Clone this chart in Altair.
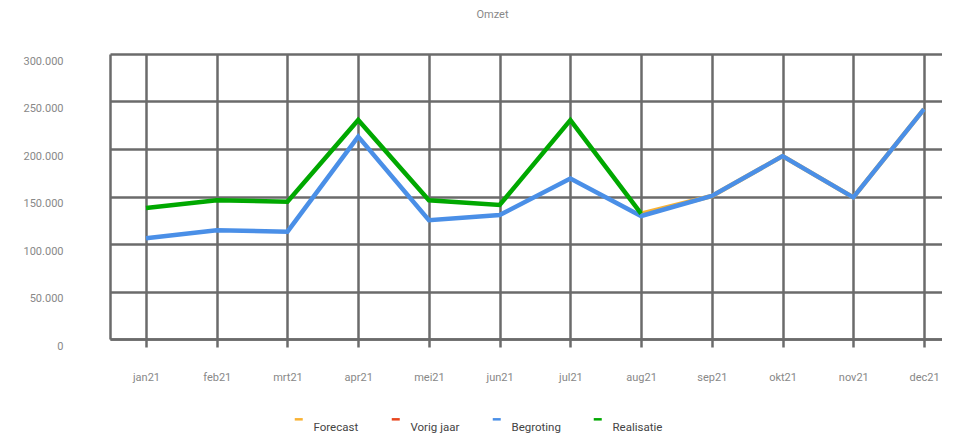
import altair as alt
import pandas as pd

months = ["jan21", "feb21", "mrt21", "apr21", "mei21", "jun21",
          "jul21", "aug21", "sep21", "okt21", "nov21", "dec21"]
series_names = ["Forecast", "Vorig jaar", "Begroting", "Realisatie"]
series_colors = ["#f9b233", "#e8461e", "#4a8fe7", "#00a800"]

forecast = [None, None, None, None, None, None, None, 132000, 150500, 192500, 149000, 242000]
vorig_jaar = [None] * 12
begroting = [106000, 114500, 113000, 213000, 125000, 130500, 169000, 129500, 150500, 192500, 149000, 242000]
realisatie = [138000, 146000, 144500, 230500, 146000, 141000, 230500, 132000, None, None, None, None]

rows = []
for name, vals in zip(series_names, [forecast, vorig_jaar, begroting, realisatie]):
    for i, (m, v) in enumerate(zip(months, vals)):
        if v is not None:
            rows.append({"idx": i, "maand": m, "serie": name, "waarde": v})
df = pd.DataFrame(rows)

FONT = "Roboto"
GRID = "#6b6b6b"
month_js = "[" + ",".join("'%s'" % m for m in months) + "]"

x_enc = alt.X("idx:Q",
              scale=alt.Scale(domain=[-0.509, 11.254], nice=False, zero=False),
              axis=alt.Axis(title=None, values=list(range(12)),
                            labelExpr=month_js + "[datum.value]",
                            labelAngle=0, tickSize=8, tickColor=GRID, tickWidth=2.5,
                            domainColor=GRID, domainWidth=2.5, grid=True, gridColor=GRID,
                            gridWidth=2.5, labelPadding=24, labelColor="#888888",
                            labelFontSize=11, labelFont=FONT, labelFlush=False))
y_enc = alt.Y("waarde:Q",
              scale=alt.Scale(domain=[0, 300000], nice=False),
              axis=alt.Axis(title=None, values=[0, 50000, 100000, 150000, 200000, 250000, 300000],
                            labelExpr="replace(format(datum.value, ',d'), ',', '.')",
                            tickSize=0, labelPadding=47, labelOffset=7, domainColor=GRID,
                            domainWidth=2.5, gridColor=GRID, gridWidth=2.5, grid=True,
                            labelColor="#888888", labelFontSize=11, labelFont=FONT))
color_enc = alt.Color("serie:N",
                      scale=alt.Scale(domain=series_names, range=series_colors),
                      legend=alt.Legend(title=None, orient="none", direction="horizontal",
                                        legendX=183, legendY=368,
                                        symbolType="M-1,-2.2H1", symbolStrokeWidth=2.5, symbolSize=64,
                                        labelBaseline="middle", labelFontSize=11.5, labelColor="#444444",
                                        labelFont=FONT, columnPadding=27, labelOffset=9))

layers = []
for name in series_names:
    sub = df[df["serie"] == name]
    if len(sub) == 0:
        sub = pd.DataFrame({"idx": [0], "maand": [months[0]], "serie": [name], "waarde": [None]})
    layers.append(
        alt.Chart(sub).mark_line(strokeWidth=4.5, strokeCap="butt").encode(
            x=x_enc, y=y_enc, color=color_enc)
    )

chart = alt.layer(*layers).properties(
    width=832, height=285,
    padding={"left": 15, "top": 0, "right": 0, "bottom": 0},
    title=alt.TitleParams("Omzet", fontSize=11, color="#888888", font=FONT, fontWeight="normal",
                          offset=34, anchor="middle", frame="bounds", dx=10),
).configure_view(stroke="transparent", strokeWidth=0)

chart.save("out.html", embed_options={"renderer": "svg", "actions": False})
